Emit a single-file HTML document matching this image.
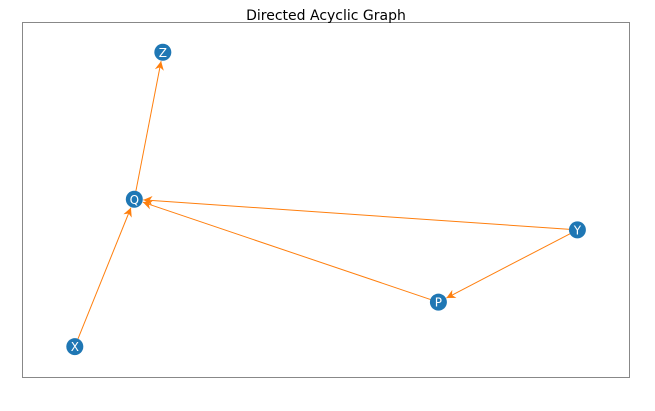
<!DOCTYPE html>
<html><head><meta charset="utf-8"><style>
body{margin:0;background:#fff;}
svg{display:block;}
</style></head><body>
<svg id="c" width="655" height="411" xmlns="http://www.w3.org/2000/svg">
<defs><marker id="ah" viewBox="0 0 10 10" refX="10" refY="5" markerWidth="11" markerHeight="9" markerUnits="userSpaceOnUse" orient="auto"><path d="M0,0 L10,5 L0,10 L3,5 z" fill="#ff7f0e"/></marker></defs>
<rect x="22.5" y="22.5" width="607" height="355" fill="none" stroke="#888" stroke-width="1"/>
<text x="326" y="20" text-anchor="middle" font-family="DejaVu Sans, Liberation Sans, sans-serif" font-size="14" fill="#000">Directed Acyclic Graph</text>
<g id="edges"></g><g id="nodes"></g>
</svg>
<script>
const nodeNames=["Z","Q","Y","P","X"];
const nodeX=[0.232,0.185,0.915,0.686,0.087];
const nodeY=[0.915,0.502,0.416,0.213,0.088];
const edgeFrom=["X","Q","Y","P","Y"];
const edgeTo=["Q","Z","Q","Q","P"];
const L=22,R=629,T=22,B=378;
const sx=v=>L+v*(R-L), sy=v=>B-v*(B-T);
const ns="http://www.w3.org/2000/svg";
const eg=document.getElementById('edges'), ng=document.getElementById('nodes');
const pos=n=>{const i=nodeNames.indexOf(n);return [sx(nodeX[i]),sy(nodeY[i])];};
edgeFrom.forEach((f,i)=>{
 const [x1,y1]=pos(f),[x2,y2]=pos(edgeTo[i]);
 const d=Math.hypot(x2-x1,y2-y1),r=9;
 const l=document.createElementNS(ns,'line');
 l.setAttribute('x1',x1);l.setAttribute('y1',y1);
 l.setAttribute('x2',x2-(x2-x1)/d*r);l.setAttribute('y2',y2-(y2-y1)/d*r);
 l.setAttribute('stroke','#ff7f0e');l.setAttribute('stroke-width','1');
 l.setAttribute('marker-end','url(#ah)');
 
 
 eg.appendChild(l);
});
nodeNames.forEach(n=>{
 const [x,y]=pos(n);
 const g=document.createElementNS(ns,'g');
 
 
 const c=document.createElementNS(ns,'circle');
 c.setAttribute('cx',x);c.setAttribute('cy',y);c.setAttribute('r',8.5);c.setAttribute('fill','#1f77b4');
 const t=document.createElementNS(ns,'text');
 t.setAttribute('x',x);t.setAttribute('y',y+4.5);t.setAttribute('text-anchor','middle');
 t.setAttribute('font-family','DejaVu Sans, Liberation Sans, sans-serif');t.setAttribute('font-size','12');t.setAttribute('fill','#fff');
 t.textContent=n;
 g.appendChild(c);g.appendChild(t);ng.appendChild(g);
});
</script>
</body></html>
